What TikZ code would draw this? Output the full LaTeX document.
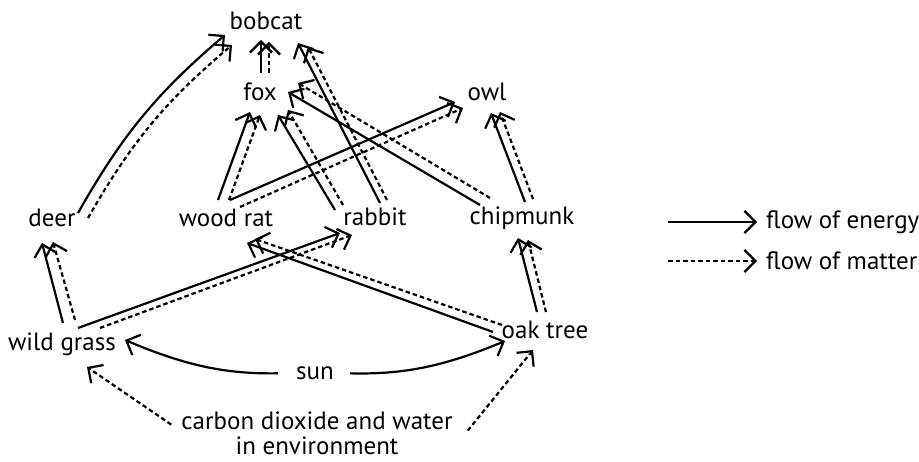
\documentclass[tikz,border=0pt]{standalone}
\usepackage{fontspec}
\setmainfont{PT Sans}
\usetikzlibrary{arrows.meta,calc}
\tikzset{
  org/.style={inner sep=1pt, font=\fontsize{25}{25}\selectfont},
  energy/.style={-{Straight Barb[length=11pt,width=22pt]}, line width=2.2pt},
  matter/.style={energy, dash pattern=on 4.5pt off 3pt}
}

\begin{document}
\begin{tikzpicture}[x=1pt, y=-1pt]
  \useasboundingbox (0,0) rectangle (919,462);
  % organisms
  \node[org] (bobcat)   at (266,21)  {bobcat};
  \node[org] (fox)      at (260,92)  {fox};
  \node[org] (owl)      at (487,92)  {owl};
  \node[org] (deer)     at (52,218)  {deer};
  \node[org] (woodrat)  at (226,218) {wood rat};
  \node[org] (rabbit)   at (375,217) {rabbit};
  \node[org] (chipmunk) at (522,218) {chipmunk};
  \node[org] (grass)    at (62,344)  {wild grass};
  \node[org] (oak)      at (545,330) {oak tree};
  \node[org] (sun)      at (315,373) {sun};
  \node[org, inner sep=0pt, anchor=south, align=center] (env) at (317,455)
    {carbon dioxide and water\\in environment};

  % sun and environment
  \draw[energy, shorten <=17pt] (sun.west) to[bend left=12] ($(grass)+(63,-4)$);
  \draw[energy, shorten <=15pt] (sun.east) to[bend right=12] ($(oak)+(-40,11)$);
  \draw[matter] ($(env.north west)+(-10,13)$) -- ($(grass)+(25,23)$);
  \draw[matter] ($(env.north east)+(15,19)$) -- ($(oak)+(-12,20)$);

  % producers
  \draw[energy] ($(grass)+(1,-21)$) -- ($(deer)+(-10,25)$);
  \draw[matter] ($(grass)+(13,-24)$) -- ($(deer)+(1,24)$);
  \draw[energy] ($(grass)+(16,-16)$) -- ($(rabbit)+(-35,16)$);
  \draw[matter] ($(grass)+(38,-16)$) -- ($(rabbit)+(-23,18)$);
  \draw[energy] ($(oak)+(-52,2)$) -- ($(woodrat)+(21,25)$);
  \draw[matter] ($(oak)+(-43,-5)$) -- ($(woodrat)+(29,21)$);
  \draw[energy] ($(oak)+(-8,-18)$) -- ($(chipmunk)+(-4,20)$);
  \draw[matter] ($(oak)+(1,-18)$) -- ($(chipmunk)+(6,22)$);

  % consumers
  \draw[energy] ($(deer)+(26,-5)$) to[bend left=10] ($(bobcat)+(-41,14)$);
  \draw[matter] ($(deer)+(36,0)$) to[bend left=10] ($(bobcat)+(-34,24)$);
  \draw[energy] ($(woodrat)+(-8,-18)$) -- ($(fox)+(-10,20)$);
  \draw[matter] ($(woodrat)+(3,-18)$) -- ($(fox)+(0,23)$);
  \draw[energy] ($(woodrat)+(4,-18)$) -- ($(owl)+(-32,10)$);
  \draw[matter] ($(woodrat)+(14,-11)$) -- ($(owl)+(-24,16)$);
  \draw[energy] ($(rabbit)+(-40,-7)$) -- ($(fox)+(18,23)$);
  \draw[matter] ($(rabbit)+(-32,-12)$) -- ($(fox)+(28,18)$);
  \draw[energy] ($(rabbit)+(5,-14)$) -- ($(bobcat)+(32,22)$);
  \draw[matter] ($(rabbit)+(12,-17)$) -- ($(bobcat)+(42,26)$);
  \draw[energy] ($(chipmunk)+(-42,-13)$) -- ($(fox)+(28,0)$);
  \draw[matter] ($(chipmunk)+(-32,-20)$) -- ($(fox)+(38,-9)$);
  \draw[energy] ($(chipmunk)+(3,-16)$) -- ($(owl)+(4,21)$);
  \draw[matter] ($(chipmunk)+(11,-19)$) -- ($(owl)+(13,20)$);
  \draw[energy] ($(fox)+(1,-19)$) -- ($(bobcat)+(-5,19)$);
  \draw[matter] ($(fox)+(9,-19)$) -- ($(bobcat)+(3,21)$);

  % legend
  \node[org, anchor=west] (lenergy) at (765,222) {flow of energy};
  \node[org, anchor=west] (lmatter) at (765,261) {flow of matter};
  \coordinate (le) at (668,222);
  \coordinate (lm) at (668,261);
  \draw[energy] (le) -- ([xshift=-8pt]lenergy.west);
  \draw[matter] (lm) -- ([xshift=-8pt]lmatter.west);
\end{tikzpicture}
\end{document}
